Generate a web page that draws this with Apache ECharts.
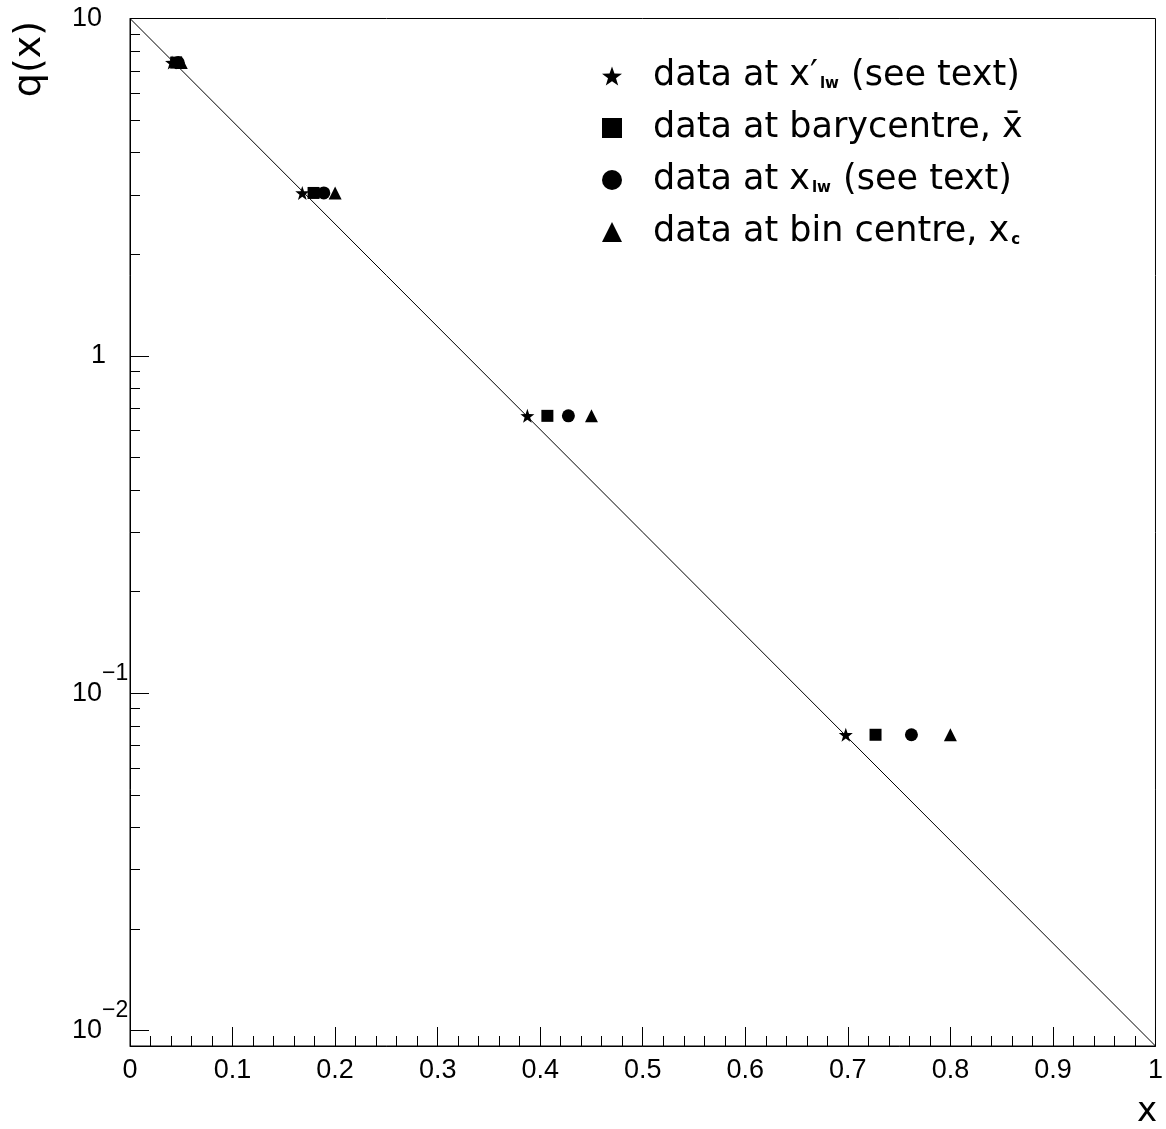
<!DOCTYPE html>
<html>
<head>
<meta charset="utf-8">
<script src="https://cdn.jsdelivr.net/npm/echarts@6/dist/echarts.min.js"></script>
<style>html,body{margin:0;padding:0;background:#fff}#c{width:1166px;height:1129px}</style>
</head>
<body>
<div id="c"></div>
<script>
// ---- data ----
const seriesNames = ['data at x\u2032lw (see text)', 'data at barycentre, x\u0304', 'data at xlw (see text)', 'data at bin centre, xc'];
const qValues = [7.4, 3.04, 0.664, 0.0753];
const xPrimeLw = [0.041, 0.168, 0.3875, 0.698];
const xBary = [0.045, 0.179, 0.407, 0.727];
const xLw = [0.047, 0.189, 0.4275, 0.762];
const xCentre = [0.05, 0.2, 0.45, 0.8];
const curveX = [0, 1];
const curveQ = [10, 0.009];
const xTicks = [0, 0.1, 0.2, 0.3, 0.4, 0.5, 0.6, 0.7, 0.8, 0.9, 1];
const yMajor = [0.01, 0.1, 1, 10];
const yMinor = [0.02,0.03,0.04,0.05,0.06,0.07,0.08,0.09,0.2,0.3,0.4,0.5,0.6,0.7,0.8,0.9,2,3,4,5,6,7,8,9];

const starPath = 'path://M0,-10 L2.35,-3.24 L9.51,-3.09 L3.8,1.24 L5.88,8.09 L0,4 L-5.88,8.09 L-3.8,1.24 L-9.51,-3.09 L-2.35,-3.24 Z';

function pts(xs){ return xs.map((x,i)=>[x, qValues[i]]); }

const legendRich = {
  sub: {fontFamily:'DejaVu Sans', fontSize:15, fontWeight:'bold', lineHeight:16, verticalAlign:'middle', padding:[16,1,0,2], color:'#000'},
  pr: {fontFamily:'DejaVu Sans', fontSize:35, lineHeight:52, color:'#000'}
};
function legendText(name){
  if (name === seriesNames[0]) return 'data at x{pr|\u2032}{sub|lw} (see text)';
  if (name === seriesNames[2]) return 'data at x{sub|lw} (see text)';
  if (name === seriesNames[3]) return 'data at bin centre, x{sub|c}';
  return name;
}

const chart = echarts.init(document.getElementById('c'), null, {renderer:'canvas'});
const option = {
  animation: false,
  backgroundColor: '#fff',
  grid: {left:130, right:9, top:18.5, bottom:83, show:true, borderColor:'#000', borderWidth:1, containLabel:false},
  xAxis: {
    type:'value', min:0, max:1, interval:0.1,
    axisLine:{lineStyle:{color:'#000', width:1}},
    axisTick:{inside:true, length:19, lineStyle:{color:'#000'}},
    minorTick:{show:true, splitNumber:5, length:10, lineStyle:{color:'#000'}},
    splitLine:{show:false},
    axisLabel:{color:'#000', fontFamily:'Liberation Sans', fontSize:27, margin:11,
      formatter: v => (Math.abs(v)<1e-9 ? '0' : (Math.abs(v-1)<1e-9 ? '1' : v.toFixed(1)))}
  },
  yAxis: [{
    type:'log', logBase:10, min:0.009, max:10,
    axisLine:{show:true, lineStyle:{color:'#000', width:1}},
    axisTick:{show:true, inside:true, length:19, customValues: yMajor, lineStyle:{color:'#000'}},
    splitLine:{show:false},
    axisLabel:{show:true, customValues: yMajor, color:'#000', fontFamily:'Liberation Sans', fontSize:27, margin:58, align:'left',
      formatter: v => {
        const e = Math.round(Math.log10(v));
        if (e === 1) return '{b|10}';
        if (e === 0) return '{one|1}';
        return '{b|10}{s|\u2212' + (-e) + '}';
      },
      rich: {
        b:{fontFamily:'Liberation Sans', fontSize:27, padding:[18,0,18,0], color:'#000'},
        one:{fontFamily:'Liberation Sans', fontSize:27, padding:[18,0,18,19], color:'#000'},
        s:{fontFamily:'Liberation Sans', fontSize:23, verticalAlign:'top', color:'#000'}
      }
    }
  }, {
    type:'log', logBase:10, min:0.009, max:10, position:'left',
    axisLine:{show:false},
    axisTick:{show:true, inside:true, length:10, customValues: yMinor, lineStyle:{color:'#000'}},
    axisLabel:{show:false},
    splitLine:{show:false}
  }],
  legend: {
    orient:'vertical', left:597, top:45, itemWidth:20, itemHeight:20, itemGap:0,
    data: seriesNames,
    formatter: legendText,
    itemStyle:{opacity:1},
    textStyle:{fontFamily:'DejaVu Sans', fontSize:35, lineHeight:52, color:'#000', padding:[0,0,0,26], rich: legendRich}
  },
  graphic: [
    {type:'text', x:30, y:59, rotation:Math.PI/2,
      style:{text:'q(x)', fontFamily:'DejaVu Sans', fontSize:38, fill:'#000', align:'center', verticalAlign:'middle'}},
    {type:'text', x:1147, y:1112,
      style:{text:'x', fontFamily:'DejaVu Sans', fontSize:34, fill:'#000', align:'center', verticalAlign:'middle'}}
  ],
  series: [
    {type:'line', name:'curve', data: curveX.map((x,i)=>[x, curveQ[i]]), showSymbol:false, symbol:'none',
      lineStyle:{color:'#000', width:1}, silent:true, z:1},
    {type:'scatter', name: seriesNames[0], data: pts(xPrimeLw), symbol: starPath, symbolSize:14, itemStyle:{color:'#000', opacity:1}, z:3},
    {type:'scatter', name: seriesNames[1], data: pts(xBary), symbol:'rect', symbolSize:12, itemStyle:{color:'#000', opacity:1}, z:3},
    {type:'scatter', name: seriesNames[2], data: pts(xLw), symbol:'circle', symbolSize:13, itemStyle:{color:'#000', opacity:1}, z:3},
    {type:'scatter', name: seriesNames[3], data: pts(xCentre), symbol:'triangle', symbolSize:13, itemStyle:{color:'#000', opacity:1}, z:3}
  ]
};
chart.setOption(option);
</script>
</body>
</html>
